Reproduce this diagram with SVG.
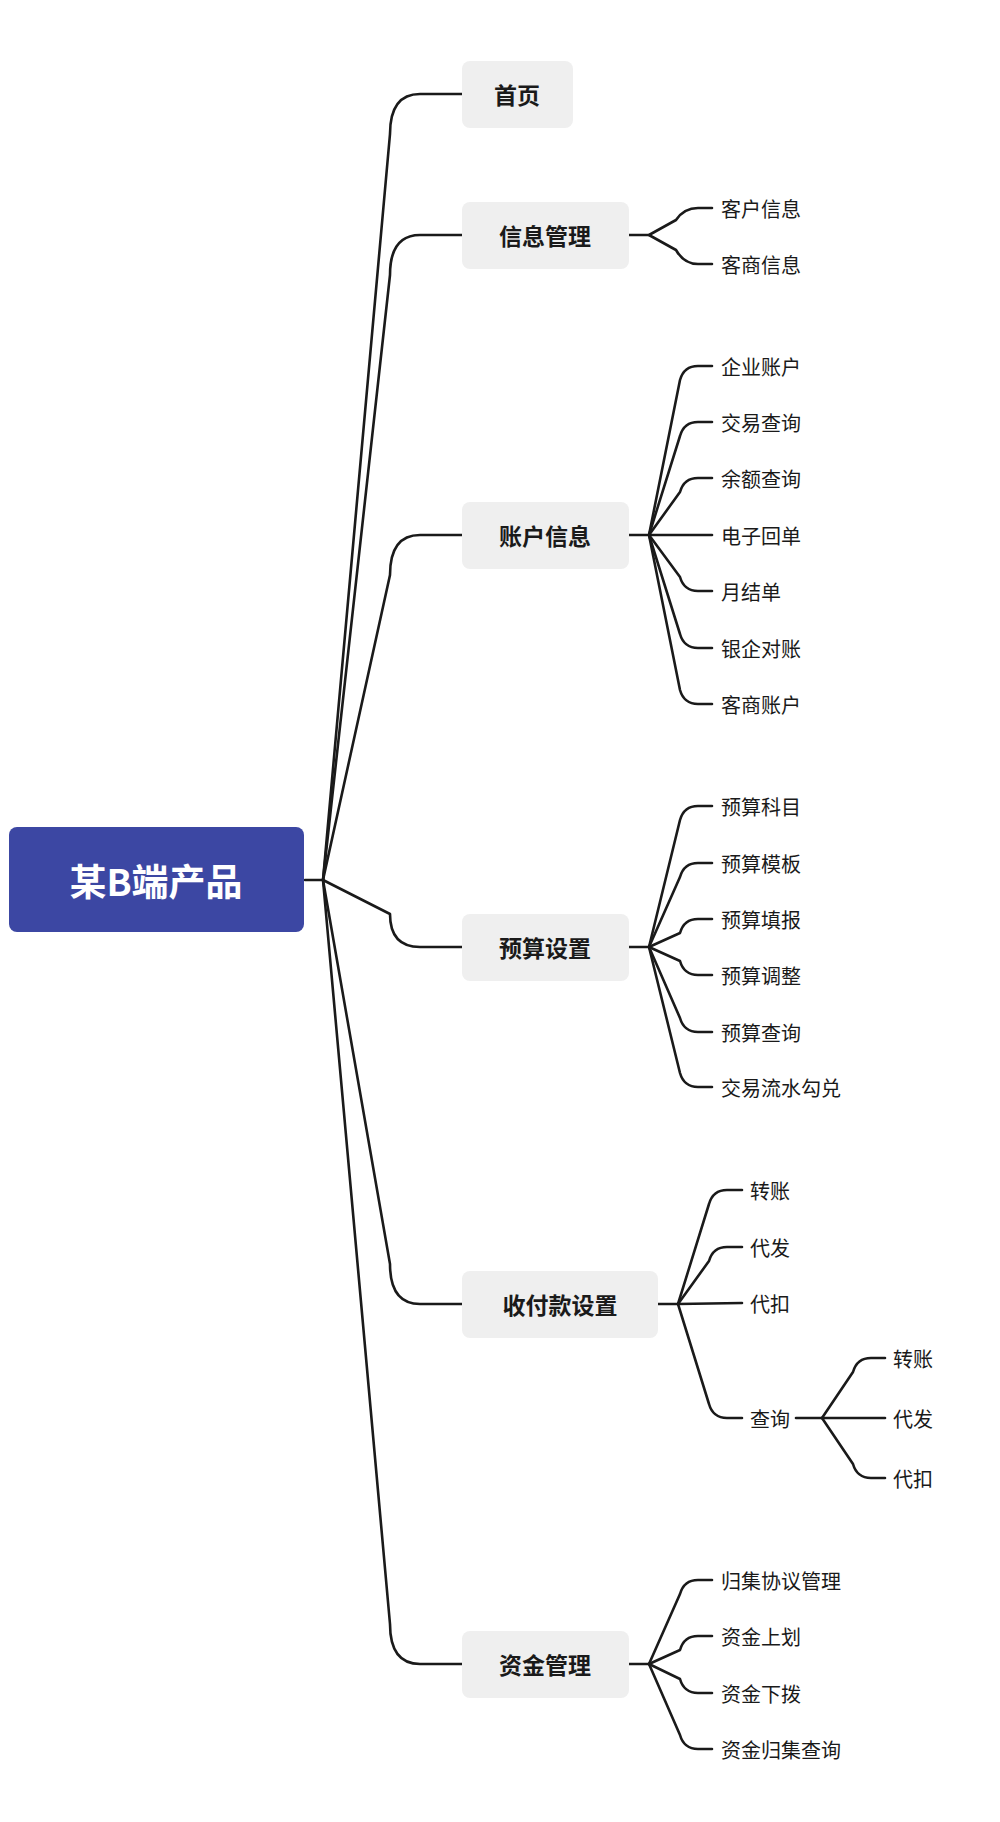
<svg xmlns="http://www.w3.org/2000/svg" width="1000" height="1822" viewBox="0 0 1000 1822">
<style>
.c{fill:none;stroke:#1a1a1a;stroke-width:2.6;stroke-linecap:round;stroke-linejoin:round}
.b{fill:#efefef}
.t1{font-family:"Noto Sans CJK SC","Noto Sans",sans-serif;font-size:23px;font-weight:bold;fill:#1a1a1a;dominant-baseline:central;text-anchor:middle}
.t2{font-family:"Noto Sans CJK SC","Noto Sans",sans-serif;font-size:20px;fill:#1a1a1a;dominant-baseline:central}
</style>
<rect width="1000" height="1822" fill="#fff"/>
<g id="connectors">
<path class="c" d="M305 880 L323 880"/>
<path class="c" d="M323 880 L390 134 Q390 94 420 94 L462 94"/>
<path class="c" d="M323 880 L390 275 Q390 235 420 235 L462 235"/>
<path class="c" d="M323 880 L390 575 Q390 535 420 535 L462 535"/>
<path class="c" d="M323 880 L390 914 Q390 947 420 947 L462 947"/>
<path class="c" d="M323 880 L390 1264 Q390 1304 420 1304 L462 1304"/>
<path class="c" d="M323 880 L390 1624 Q390 1664 420 1664 L462 1664"/>
<path class="c" d="M629 235 L649 235 L676 220 Q684 208 698 208 L712 208"/>
<path class="c" d="M649 235 L676 250 Q684 264 698 264 L712 264"/>
<path class="c" d="M629 535 L649 535"/>
<path class="c" d="M649 535 L680 380 Q684 366 698 366 L712 366"/>
<path class="c" d="M649 535 L680 436 Q684 422 698 422 L712 422"/>
<path class="c" d="M649 535 L680 492 Q684 478 698 478 L712 478"/>
<path class="c" d="M649 535 L712 535"/>
<path class="c" d="M649 535 L680 577 Q684 591 698 591 L712 591"/>
<path class="c" d="M649 535 L680 634 Q684 648 698 648 L712 648"/>
<path class="c" d="M649 535 L680 690 Q684 704 698 704 L712 704"/>
<path class="c" d="M629 947 L649 947"/>
<path class="c" d="M649 947 L680 820 Q684 806 698 806 L712 806"/>
<path class="c" d="M649 947 L680 877 Q684 863 698 863 L712 863"/>
<path class="c" d="M649 947 L680 933 Q684 919 698 919 L712 919"/>
<path class="c" d="M649 947 L680 961 Q684 975 698 975 L712 975"/>
<path class="c" d="M649 947 L680 1018 Q684 1032 698 1032 L712 1032"/>
<path class="c" d="M649 947 L680 1073 Q684 1087 698 1087 L712 1087"/>
<path class="c" d="M658 1304 L678 1304"/>
<path class="c" d="M678 1304 L709 1204 Q713 1190 727 1190 L742 1190"/>
<path class="c" d="M678 1304 L709 1261 Q713 1247 727 1247 L742 1247"/>
<path class="c" d="M678 1304 L742 1303"/>
<path class="c" d="M678 1304 L709 1404 Q713 1418 727 1418 L742 1418"/>
<path class="c" d="M796 1418 L822 1418"/>
<path class="c" d="M822 1418 L853 1372 Q857 1358 871 1358 L885 1358"/>
<path class="c" d="M822 1418 L885 1418"/>
<path class="c" d="M822 1418 L853 1464 Q857 1478 871 1478 L885 1478"/>
<path class="c" d="M629 1664 L649 1664"/>
<path class="c" d="M649 1664 L680 1594 Q684 1580 698 1580 L712 1580"/>
<path class="c" d="M649 1664 L680 1650 Q684 1636 698 1636 L712 1636"/>
<path class="c" d="M649 1664 L680 1679 Q684 1693 698 1693 L712 1693"/>
<path class="c" d="M649 1664 L680 1735 Q684 1749 698 1749 L712 1749"/>
</g>
<g id="root"><rect x="9" y="827" width="295" height="105" rx="8" fill="#3c47a3"/><text x="156" y="880" text-anchor="middle" dominant-baseline="central" font-family="Noto Sans CJK SC,sans-serif" font-size="37" font-weight="bold" fill="#fff">某B端产品</text></g>
<g id="n1"><rect class="b" x="462" y="61" width="111" height="67" rx="8"/><text class="t1" x="517" y="94">首页</text></g>
<g id="n2"><rect class="b" x="462" y="202" width="167" height="67" rx="8"/><text class="t1" x="545" y="235">信息管理</text></g>
<g id="n3"><rect class="b" x="462" y="502" width="167" height="67" rx="8"/><text class="t1" x="545" y="535">账户信息</text></g>
<g id="n4"><rect class="b" x="462" y="914" width="167" height="67" rx="8"/><text class="t1" x="545" y="947">预算设置</text></g>
<g id="n5"><rect class="b" x="462" y="1271" width="196" height="67" rx="8"/><text class="t1" x="560" y="1304">收付款设置</text></g>
<g id="n6"><rect class="b" x="462" y="1631" width="167" height="67" rx="8"/><text class="t1" x="545" y="1664">资金管理</text></g>
<g id="leaves">
<text class="t2" x="721" y="208">客户信息</text>
<text class="t2" x="721" y="264">客商信息</text>
<text class="t2" x="721" y="366">企业账户</text>
<text class="t2" x="721" y="422">交易查询</text>
<text class="t2" x="721" y="478">余额查询</text>
<text class="t2" x="721" y="535">电子回单</text>
<text class="t2" x="721" y="591">月结单</text>
<text class="t2" x="721" y="648">银企对账</text>
<text class="t2" x="721" y="704">客商账户</text>
<text class="t2" x="721" y="806">预算科目</text>
<text class="t2" x="721" y="863">预算模板</text>
<text class="t2" x="721" y="919">预算填报</text>
<text class="t2" x="721" y="975">预算调整</text>
<text class="t2" x="721" y="1032">预算查询</text>
<text class="t2" x="721" y="1087">交易流水勾兑</text>
<text class="t2" x="750" y="1190">转账</text>
<text class="t2" x="750" y="1247">代发</text>
<text class="t2" x="750" y="1303">代扣</text>
<text class="t2" x="750" y="1418">查询</text>
<text class="t2" x="893" y="1358">转账</text>
<text class="t2" x="893" y="1418">代发</text>
<text class="t2" x="893" y="1478">代扣</text>
<text class="t2" x="721" y="1580">归集协议管理</text>
<text class="t2" x="721" y="1636">资金上划</text>
<text class="t2" x="721" y="1693">资金下拨</text>
<text class="t2" x="721" y="1749">资金归集查询</text>
</g>
</svg>
